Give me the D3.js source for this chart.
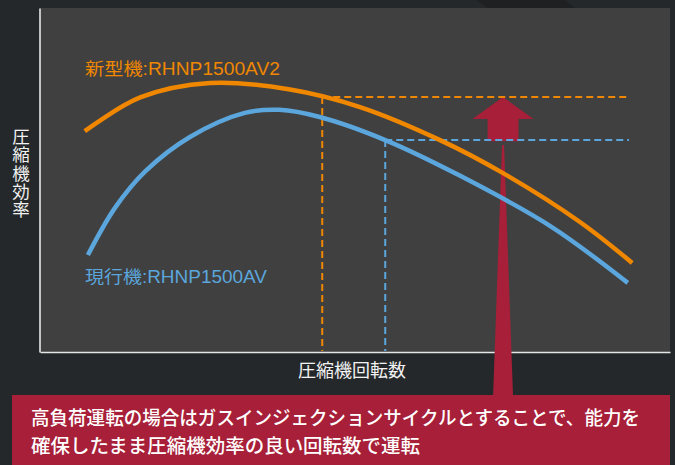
<!DOCTYPE html>
<html><head><meta charset="utf-8">
<script src="https://cdn.jsdelivr.net/npm/d3@7"></script>
<style>
html,body{margin:0;padding:0;background:#25282a;}
svg{display:block;}
text{font-family:"Liberation Sans","Noto Sans CJK JP",sans-serif;}
</style></head>
<body>
<script>
// ---- data (x: compressor speed, y: compressor efficiency, arbitrary units 0-100) ----
const newX = [7.1, 15.9, 27.0, 39.7, 50.8, 63.5, 73.5, 85.7, 94.0];
const newY = [64.2, 74.0, 78.2, 76.3, 71.2, 61.6, 52.0, 37.8, 25.9];
const curX = [7.6, 11.9, 16.7, 23.8, 32.5, 38.0, 44.4, 54.8, 66.7, 81.0, 93.3];
const curY = [28.2, 41.9, 52.5, 62.5, 69.5, 70.4, 68.3, 61.6, 51.2, 36.6, 20.1];
const seriesNames = ["新型機:RHNP1500AV2", "現行機:RHNP1500AV"];
const refX = [44.8, 54.8];      // operating speed of each model
const refY = [74.1, 61.6];      // efficiency at that speed
const refEndX = 93.5;
const arrowX = 73.5;
const yTitle = "圧縮機効率";
const xTitle = "圧縮機回転数";
const noteLines = ["高負荷運転の場合はガスインジェクションサイクルとすることで、能力を",
                   "確保したまま圧縮機効率の良い回転数で運転"];

const W = 675, H = 465;
const C = {orange:"#f08700", blue:"#5ba6dc", red:"#a71f38", plot:"#404040", axis:"#e6e6e6", text:"#f2f2f2"};

const svg = d3.select("body").append("svg").attr("width", W).attr("height", H);
svg.append("rect").attr("width", W).attr("height", H).attr("fill", "#25282a");
svg.append("polygon").attr("points", "476,0 565,0 575,8 488,8").attr("fill", "#1e2022");

const x = d3.scaleLinear().domain([0, 100]).range([40, 670]);
const y = d3.scaleLinear().domain([0, 100]).range([352, 8]);

svg.append("rect").attr("x", x(0)).attr("y", y(100))
  .attr("width", x(100) - x(0)).attr("height", y(0) - y(100)).attr("fill", C.plot);

// axes (domain lines only)
const ax = svg.append("g").attr("transform", `translate(0,${y(0)})`)
  .call(d3.axisBottom(x).tickValues([]).tickSizeOuter(0));
const ay = svg.append("g").attr("transform", `translate(${x(0) - 0.5},0)`)
  .call(d3.axisLeft(y).tickValues([]).tickSizeOuter(0));
[ax, ay].forEach(g => g.select(".domain").attr("stroke", C.axis).attr("stroke-width", 1.6));

// arrow (head + shaft + spike down to the note box)
const boxTop = 395;
const ah = [
  [x(arrowX), y(74.1)],
  [x(arrowX + 4.85), y(67.7)],
  [x(arrowX + 2.45), y(67.7)],
  [x(arrowX + 2.45), y(61.3)],
  [x(arrowX - 2.45), y(61.3)],
  [x(arrowX - 2.45), y(67.7)],
  [x(arrowX - 4.85), y(67.7)]
];
svg.append("polygon").attr("points", ah.map(p => p.join(",")).join(" ")).attr("fill", C.red);
svg.append("polygon").attr("points", [
  [x(arrowX) - 1, y(60.2)], [x(arrowX) + 1, y(60.2)],
  [x(arrowX) + 10, boxTop + 2], [x(arrowX) - 10, boxTop + 2]
].map(p => p.join(",")).join(" ")).attr("fill", C.red);

// reference dashed lines
const refColors = [C.orange, C.blue];
refX.forEach((rx, i) => {
  const g = svg.append("g").attr("stroke", refColors[i]).attr("stroke-width", 2)
    .attr("stroke-dasharray", "7,4").attr("fill", "none");
  g.append("line").attr("x1", x(rx)).attr("x2", x(rx)).attr("y1", y(refY[i])).attr("y2", y(0) - 1);
  g.append("line").attr("x1", x(rx)).attr("x2", x(refEndX)).attr("y1", y(refY[i])).attr("y2", y(refY[i]));
});

// curves
const line = d3.line().x(d => x(d[0])).y(d => y(d[1])).curve(d3.curveCatmullRom.alpha(0.5));
svg.append("path").datum(curX.map((v, i) => [v, curY[i]]))
  .attr("d", line).attr("fill", "none").attr("stroke", C.blue).attr("stroke-width", 4.5);
svg.append("path").datum(newX.map((v, i) => [v, newY[i]]))
  .attr("d", line).attr("fill", "none").attr("stroke", C.orange).attr("stroke-width", 4.5);

// series labels
svg.append("text").attr("x", 85).attr("y", 75).attr("fill", C.orange)
  .attr("font-size", 17.5).attr("textLength", 195).attr("lengthAdjust", "spacingAndGlyphs").text(seriesNames[0]);
svg.append("text").attr("x", 85).attr("y", 283).attr("fill", C.blue)
  .attr("font-size", 17.5).attr("textLength", 182).attr("lengthAdjust", "spacingAndGlyphs").text(seriesNames[1]);

// axis titles
const yt = svg.append("text").attr("fill", C.text).attr("font-size", 17.5)
  .attr("font-family", "Noto Sans CJK JP").attr("text-anchor", "middle");
yt.selectAll("tspan").data(Array.from(yTitle)).join("tspan")
  .attr("x", 21).attr("y", (d, i) => 143 + i * 18.3).text(d => d);
svg.append("text").attr("x", 352).attr("y", 377).attr("fill", C.text)
  .attr("font-family", "Noto Sans CJK JP").attr("font-size", 18).attr("text-anchor", "middle").text(xTitle);

// note box
svg.append("rect").attr("x", 12).attr("y", boxTop).attr("width", 658).attr("height", H - boxTop).attr("fill", C.red);
const noteLen = [609, 389];
noteLines.forEach((t, i) => {
  svg.append("text").attr("x", 31).attr("y", 425 + i * 28).attr("fill", "#ffffff")
    .attr("font-family", "Noto Sans CJK JP").attr("font-size", 19).attr("font-weight", 500)
    .attr("textLength", noteLen[i]).attr("lengthAdjust", "spacingAndGlyphs").text(t);
});
</script>
</body></html>
